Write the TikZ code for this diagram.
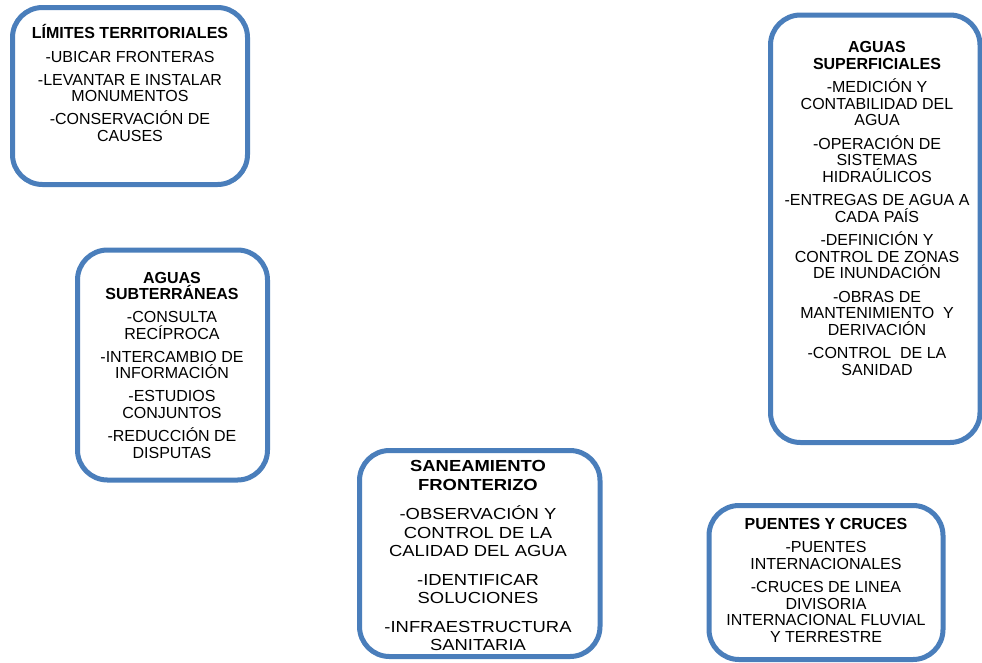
\documentclass[tikz,border=0pt]{standalone}
\usepackage{fontspec}
\setmainfont{Liberation Sans}
\newfontfamily\widefont[FakeStretch=1.15]{Liberation Sans}
\usetikzlibrary{shadows}
\definecolor{boxblue}{RGB}{74,126,187}
\newcommand\mystrut{\rule{0pt}{16pt}}
\tikzset{
  panel/.style={draw=boxblue, line width=5pt, rounded corners=30pt, fill=white,
    inner sep=0pt, outer sep=0pt,
    drop shadow={shadow xshift=1.5pt, shadow yshift=-1.5pt, opacity=0.3}},
  boxtext/.style={anchor=north, inner sep=0pt, outer sep=0pt, align=center,
    font=\fontsize{16}{16.6}\selectfont},
  widetext/.style={anchor=north, inner sep=0pt, outer sep=0pt, align=center,
    font=\widefont\fontsize{16}{18.5}\selectfont}
}
\begin{document}
\begin{tikzpicture}[x=1pt,y=-1pt]
\useasboundingbox (0,0) rectangle (982,662);

% boxes
\node[panel, minimum width=235pt, minimum height=177pt] (b1) at (130,96) {};
\node[panel, minimum width=209.5pt, minimum height=427.5pt] (b2) at (875.25,228.75) {};
\node[panel, minimum width=190pt, minimum height=230pt] (b3) at (172.5,365) {};
\node[panel, minimum width=240.5pt, minimum height=206pt] (b4) at (479.75,553.5) {};
\node[panel, minimum width=234pt, minimum height=154pt] (b5) at (826,582.5) {};

% texts
\node[boxtext] (t1) at (130,22) {\mystrut\textbf{LÍMITES TERRITORIALES}\\[7.4pt]
-UBICAR FRONTERAS\\[6.4pt]
-LEVANTAR E INSTALAR\\ MONUMENTOS\\[6.4pt]
-CONSERVACIÓN DE\\ CAUSES};

\node[boxtext] (t2) at (877,36.7) {\mystrut\textbf{AGUAS}\\ \textbf{SUPERFICIALES}\\[6.7pt]
-MEDICIÓN Y\\ CONTABILIDAD DEL\\ AGUA\\[6.7pt]
-OPERACIÓN DE\\ SISTEMAS\\ HIDRAÚLICOS\\[6.7pt]
-ENTREGAS DE AGUA A\\ CADA PAÍS\\[6.7pt]
-DEFINICIÓN Y\\ CONTROL DE ZONAS\\ DE INUNDACIÓN\\[6.7pt]
-OBRAS DE\\ MANTENIMIENTO\ \ Y\\ DERIVACIÓN\\[6.7pt]
-CONTROL\ \ DE LA\\ SANIDAD};

\node[boxtext] (t3) at (172,267) {\mystrut\textbf{AGUAS}\\ \textbf{SUBTERRÁNEAS}\\[6.4pt]
-CONSULTA\\ RECÍPROCA\\[6.4pt]
-INTERCAMBIO DE\\ INFORMACIÓN\\[6.4pt]
-ESTUDIOS\\ CONJUNTOS\\[6.4pt]
-REDUCCIÓN DE\\ DISPUTAS};

\node[widetext] (t4) at (478,455.7) {\mystrut\textbf{SANEAMIENTO}\\ \textbf{FRONTERIZO}\\[10.8pt]
-OBSERVACIÓN Y\\ CONTROL DE LA\\ CALIDAD DEL AGUA\\[10pt]
-IDENTIFICAR\\ SOLUCIONES\\[10pt]
-INFRAESTRUCTURA\\ SANITARIA};

\node[boxtext] (t5) at (826,513.3) {\mystrut\textbf{PUENTES Y CRUCES}\\[7pt]
-PUENTES\\ INTERNACIONALES\\[6.4pt]
-CRUCES DE LINEA\\ DIVISORIA\\ INTERNACIONAL FLUVIAL\\ Y TERRESTRE};
\end{tikzpicture}
\end{document}
